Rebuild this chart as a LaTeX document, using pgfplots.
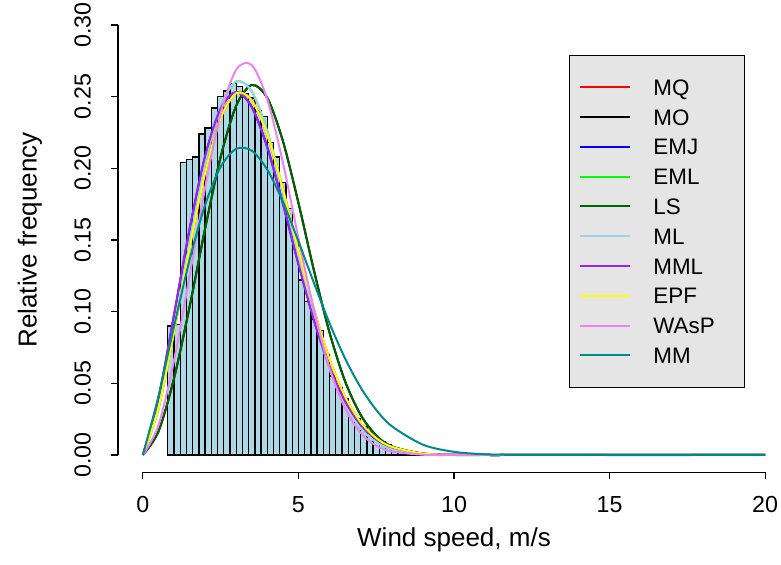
\documentclass[border=0pt]{standalone}
\usepackage{fontspec}
\setmainfont{Liberation Sans}
\usepackage{pgfplots}
\usepackage{pgfplotstable}
\pgfplotsset{compat=1.18}
\definecolor{histblue}{HTML}{ADD8E6}
\definecolor{legendgray}{HTML}{E5E5E5}
\definecolor{rred}{HTML}{FF0000}
\definecolor{rblue}{HTML}{0000FF}
\definecolor{rgreen}{HTML}{00FF00}
\definecolor{rdarkgreen}{HTML}{006400}
\definecolor{rlightblue}{HTML}{9DD3EA}
\definecolor{rpurple}{HTML}{A020F0}
\definecolor{ryellow}{HTML}{FFFF00}
\definecolor{rviolet}{HTML}{EE82EE}
\definecolor{rdarkcyan}{HTML}{008B8B}

\pgfplotstableread{
x    h
0.8  0.090
1.0  0.091
1.2  0.204
1.4  0.206
1.6  0.208
1.8  0.224
2.0  0.228
2.2  0.242
2.4  0.250
2.6  0.254
2.8  0.259
3.0  0.257
3.2  0.252
3.4  0.249
3.6  0.240
3.8  0.236
4.0  0.218
4.2  0.208
4.4  0.190
4.6  0.172
4.8  0.150
5.0  0.122
5.2  0.107
5.4  0.095
5.6  0.087
5.8  0.070
6.0  0.055
6.2  0.047
6.4  0.039
6.6  0.030
6.8  0.025
7.0  0.020
7.2  0.016
7.4  0.012
7.6  0.009
7.8  0.007
8.0  0.005
8.2  0.004
8.4  0.003
8.6  0.002
8.8  0.001
9.0  0.001
}\histtable

\pgfplotstableread{
x    MQ     MO     EMJ    EML    LS     ML     MML    EPF    WAsP   MM
0    0      0      0      0      0      0      0      0      0      0
0.5  0.0330 0.0165 0.0395 0.0321 0.0163 0.0325 0.0397 0.0328 0.0207 0.0409
1    0.0860 0.0535 0.0975 0.0864 0.0532 0.0868 0.0977 0.0858 0.0658 0.0896
1.5  0.1443 0.1034 0.1574 0.1473 0.1031 0.1477 0.1576 0.1441 0.1248 0.1360
2    0.1970 0.1580 0.2082 0.2030 0.1578 0.2033 0.2084 0.1968 0.1865 0.1744
2.5  0.2352 0.2080 0.2417 0.2431 0.2079 0.2433 0.2418 0.2350 0.2383 0.2010
3    0.2526 0.2437 0.2532 0.2606 0.2437 0.2606 0.2532 0.2524 0.2689 0.2136
3.5  0.2476 0.2581 0.2428 0.2537 0.2582 0.2535 0.2427 0.2474 0.2720 0.2123
4    0.2232 0.2490 0.2146 0.2258 0.2490 0.2255 0.2145 0.2231 0.2480 0.1990
4.5  0.1856 0.2191 0.1755 0.1844 0.2190 0.1842 0.1754 0.1856 0.2040 0.1767
5    0.1427 0.1759 0.1333 0.1383 0.1758 0.1382 0.1332 0.1428 0.1514 0.1491
5.5  0.1015 0.1286 0.0940 0.0953 0.1285 0.0953 0.0939 0.1016 0.1011 0.1199
6    0.0667 0.0854 0.0616 0.0602 0.0853 0.0602 0.0615 0.0668 0.0605 0.0919
6.5  0.0406 0.0514 0.0375 0.0349 0.0513 0.0349 0.0374 0.0407 0.0324 0.0673
7    0.0228 0.0280 0.0211 0.0186 0.0279 0.0186 0.0211 0.0229 0.0154 0.0471
7.5  0.0118 0.0136 0.0111 0.0090 0.0136 0.0090 0.0111 0.0118 0.0065 0.0315
8    0.0057 0.0060 0.0054 0.0040 0.0060 0.0040 0.0054 0.0057 0.0024 0.0201
9    0.0010 0.0008 0.0010 0.0006 0.0008 0.0006 0.0010 0.0010 0.0002 0.0072
10   0.0001 0.0001 0.0001 0.0000 0.0001 0.0000 0.0001 0.0001 0.0000 0.0022
11   0      0      0      0      0      0      0      0      0      0.0005
12   0      0      0      0      0      0      0      0      0      0.0001
14   0      0      0      0      0      0      0      0      0      0
20   0      0      0      0      0      0      0      0      0      0
}\curvetable

\begin{document}
\fontsize{13}{15.6}\selectfont
\begin{tikzpicture}
\begin{axis}[
  name=ax,
  scale only axis,
  width=336pt, height=232.2pt,
  xmin=-0.8, xmax=20.8, ymin=-0.012, ymax=0.312,
  axis x line*=bottom, axis y line*=left,
  axis line style={draw=none},
  xtick={0,5,10,15,20},
  ytick={0,0.05,0.10,0.15,0.20,0.25,0.30},
  /pgf/number format/assume math mode=true,
  ticklabel style={font=\fontsize{11.6}{13.9}\selectfont},
  yticklabel style={/pgf/number format/.cd, fixed, fixed zerofill, precision=2, /tikz/.cd, rotate=90, anchor=south},
  xticklabel style={anchor=north},
  xticklabel shift=4pt,
  yticklabel shift=5.5pt,
  tick align=outside,
  major tick length=3.5pt,
  tick style={black, line width=0.6pt},
  xlabel={Wind speed, m/s},
  ylabel={Relative frequency},
  every axis x label/.style={at={(axis description cs:0.5,0)}, anchor=center, yshift=-33.9pt},
  every axis y label/.style={at={(axis description cs:-0.131,0.5)}, rotate=90, anchor=center},
  legend style={at={(axis cs:13.70,0.2791)}, anchor=north west, fill=legendgray, draw=black, line width=0.6pt,
    font=\fontsize{11.2}{13.4}\selectfont,
    inner xsep=4.5pt, inner ysep=11.85pt, row sep=6.9pt,
    nodes={inner sep=0pt, text height=8.0pt, text depth=0pt},
    /tikz/every odd column/.append style={column sep=11.35pt}},
  legend cell align=left,
  legend image code/.code={\draw[#1, line width=1.0pt] (0pt,0pt) -- (25pt,0pt);},
  clip=false,
]
\addplot[ybar interval, fill=histblue, draw=black, line width=0.7pt, forget plot] table[x=x, y=h] {\histtable};
\addplot[rred, line width=1.0pt, smooth] table[x=x, y=MQ] {\curvetable};
\addlegendentry{\makebox[41pt][l]{MQ}}
\addplot[black, line width=1.0pt, smooth] table[x=x, y=MO] {\curvetable};
\addlegendentry{\makebox[41pt][l]{MO}}
\addplot[rblue, line width=1.0pt, smooth] table[x=x, y=EMJ] {\curvetable};
\addlegendentry{\makebox[41pt][l]{EMJ}}
\addplot[rgreen, line width=1.0pt, smooth] table[x=x, y=EML] {\curvetable};
\addlegendentry{\makebox[41pt][l]{EML}}
\addplot[rdarkgreen, line width=1.0pt, smooth] table[x=x, y=LS] {\curvetable};
\addlegendentry{\makebox[41pt][l]{LS}}
\addplot[rlightblue, line width=1.0pt, smooth] table[x=x, y=ML] {\curvetable};
\addlegendentry{\makebox[41pt][l]{ML}}
\addplot[rpurple, line width=1.0pt, smooth] table[x=x, y=MML] {\curvetable};
\addlegendentry{\makebox[41pt][l]{MML}}
\addplot[ryellow, line width=1.0pt, smooth] table[x=x, y=EPF] {\curvetable};
\addlegendentry{\makebox[41pt][l]{EPF}}
\addplot[rviolet, line width=1.0pt, smooth] table[x=x, y=WAsP] {\curvetable};
\addlegendentry{\makebox[41pt][l]{WAsP}}
\addplot[rdarkcyan, line width=1.0pt, smooth] table[x=x, y=MM] {\curvetable};
\addlegendentry{\makebox[41pt][l]{MM}}
\draw[black, line width=0.6pt] (axis cs:0,-0.012) -- (axis cs:20,-0.012);
\draw[black, line width=0.6pt] (axis cs:-0.8,0) -- (axis cs:-0.8,0.30);
\end{axis}
\pgfresetboundingbox
\path ([shift={(-59pt,-46.4pt)}]ax.south west) rectangle ([shift={(331.5pt,236.1pt)}]ax.south west);
\end{tikzpicture}
\end{document}
